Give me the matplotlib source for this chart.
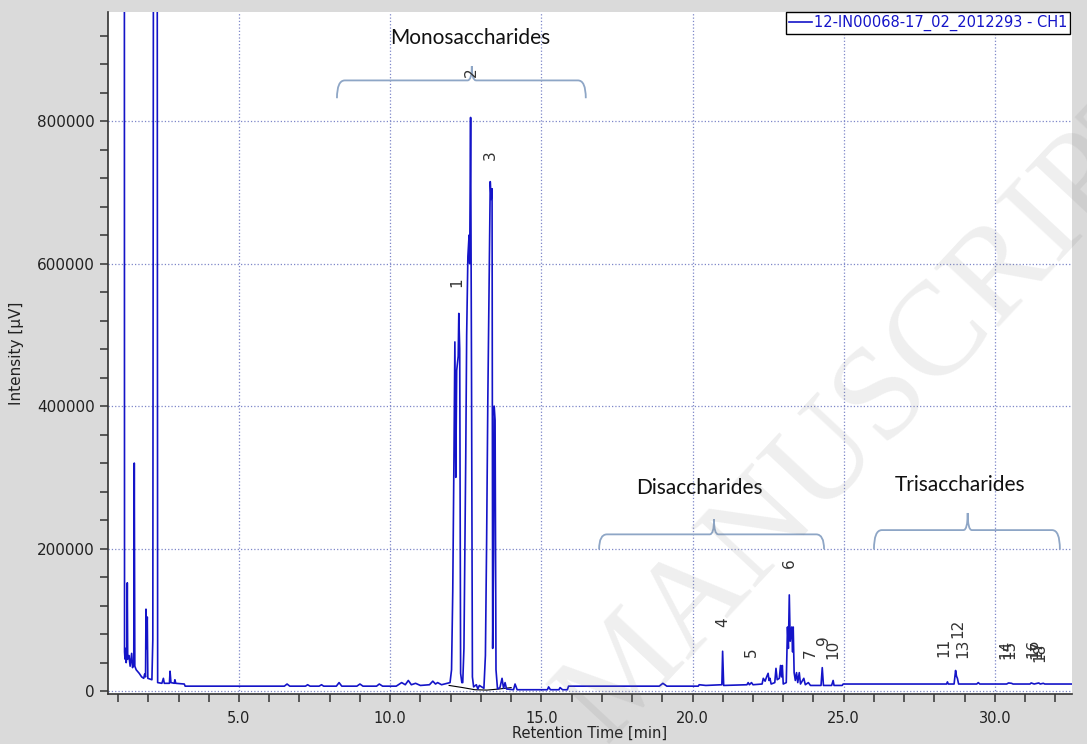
import matplotlib
matplotlib.use('Agg')
import matplotlib.pyplot as plt
from matplotlib.path import Path
from matplotlib.patches import PathPatch
from matplotlib.lines import Line2D
from matplotlib.ticker import MultipleLocator, FuncFormatter
import numpy as np

# chromatogram vertices, time [min] and intensity [kuV]
early_t = [1.19, 1.207, 1.215, 1.23, 1.25, 1.27, 1.29, 1.306, 1.32, 1.36, 1.40, 1.45, 1.48, 1.52,
           1.537, 1.555, 1.60, 1.70, 1.78, 1.85, 1.88, 1.91, 1.924, 1.94, 1.967, 1.985, 2.05,
           2.12, 2.15, 2.18, 2.29, 2.31, 2.45, 2.50, 2.53, 2.70, 2.72, 2.75, 2.86, 2.88, 2.91,
           3.19, 3.22]
early_i = [1500, 1500, 55, 45, 60, 40, 50, 152, 45, 50, 35, 53, 33, 40,
           320, 35, 30, 25, 20, 18, 24, 20, 115, 60, 104, 18, 17,
           16, 72, 1500, 1500, 12, 11, 18, 11, 11, 28, 12, 11, 16, 11,
           10, 7]

mid_t = [6.5, 6.59, 6.68, 7.2, 7.27, 7.35, 7.65, 7.73, 7.8, 8.22, 8.31, 8.4, 8.9, 9.0, 9.1,
         9.55, 9.64, 9.75, 10.2, 10.38, 10.5, 10.6, 10.7, 10.84, 11.0, 11.3, 11.41, 11.5,
         11.57, 11.7, 11.98]
mid_i = [7, 10, 7, 7, 9, 7, 7, 9, 7, 7, 12, 7, 7, 10, 7,
         7, 10, 7, 7, 12, 9, 15, 9, 11, 8, 9, 14, 10,
         12, 9, 12]

mono_t = [12.03, 12.07, 12.11, 12.14, 12.17, 12.20, 12.25, 12.27, 12.30, 12.33, 12.37,
          12.40, 12.44, 12.47, 12.50, 12.53, 12.57, 12.61, 12.63, 12.66, 12.69, 12.72, 12.76,
          12.85, 12.90, 12.95, 13.10, 13.15, 13.19, 13.23, 13.27, 13.31, 13.34, 13.37, 13.39,
          13.42, 13.44, 13.47, 13.50, 13.55]
mono_i = [30, 140, 330, 490, 300, 450, 470, 530, 480, 25, 12,
          12, 60, 195, 330, 500, 610, 640, 600, 805, 450, 20, 6,
          9, 3, 8, 4, 50, 210, 410, 560, 715, 690, 705, 60,
          200, 400, 380, 30, 3]

late_t = [13.63, 13.70, 13.75, 13.80, 13.85, 14.08, 14.13, 14.2, 15.2, 15.24, 15.3, 15.58,
          15.62, 15.7, 15.86, 15.9, 18.9, 19.02, 19.15, 20.19, 20.22, 20.44, 20.97]
late_i = [5, 18, 4, 12, 3, 2, 10, 2, 2, 6, 2, 2,
          5, 2, 2, 7, 7, 11, 7, 7, 9, 8, 9]

di_t = [20.995, 21.01, 21.03, 21.8, 21.84, 21.88, 21.95, 22.0, 22.3, 22.34, 22.4, 22.45, 22.50,
        22.53, 22.56, 22.6, 22.72, 22.76, 22.8, 22.87, 22.91, 22.94, 22.97, 23.0, 23.1, 23.14,
        23.17, 23.20, 23.23, 23.28, 23.31, 23.33, 23.36, 23.40, 23.44, 23.48, 23.53, 23.57,
        23.68, 23.73, 23.83, 23.9, 24.25, 24.29, 24.33, 24.6, 24.65, 24.68, 24.95]
di_i = [56, 36, 8, 9, 12, 9, 12, 9, 10, 18, 14, 20, 25,
        15, 18, 10, 12, 32, 16, 18, 36, 20, 36, 10, 12, 90,
        60, 135, 70, 90, 55, 90, 26, 15, 26, 12, 26, 10,
        18, 9, 12, 8, 8, 33, 8, 8, 15, 8, 8]

tri_t = [24.98, 28.4, 28.43, 28.46, 28.65, 28.70, 28.73, 28.76, 28.8, 29.4, 29.45, 29.5, 30.39,
         30.45, 30.55, 30.6, 31.16, 31.2, 31.3, 31.45, 31.5, 31.6, 31.65, 32.55]
tri_i = [10, 10, 13, 10, 10, 29, 21, 18, 10, 10, 12, 10, 10,
         11.5, 11, 10, 10, 11.5, 10, 11.5, 10, 11, 10, 10]

# integration baseline under the monosaccharide peaks
base_t = [11.95, 12.4, 12.8, 13.2, 13.6, 14.0]
base_i = [8, 5, 2, 1.5, 3, 5]

# peak numbers: label, time, height of label centre
peak_labels = ['1', '2', '3', '4', '5', '6', '7', '9', '10',
               '11', '12', '13', '14', '15', '16', '17', '18']
peak_t = [12.21, 12.67, 13.30, 21.0, 21.95, 23.2, 23.88, 24.32, 24.65,
          28.31, 28.79, 28.95, 30.35, 30.50, 31.27, 31.38, 31.49]
peak_i = [574, 869, 752, 97, 55, 179, 53, 72, 58,
          62, 88, 60, 58, 58, 60, 58, 55]

# sugar groups: name, brace start, brace end, brace tip, text position
groups = ['Monosaccharides', 'Disaccharides', 'Trisaccharides']
brace_start = [8.24, 16.91, 26.0]
brace_end = [16.47, 24.35, 32.15]
brace_tip = [12.70, 20.71, 29.10]
brace_foot = [832, 199, 199]
brace_line = [857, 220, 226]
brace_top = [877, 241, 250]
group_t = [12.64, 20.24, 28.84]
group_i = [916, 285, 289]

legend_name = '12-IN00068-17_02_2012293 - CH1'

t = np.array(early_t + mid_t + mono_t + late_t + di_t + tri_t)
y = np.array(early_i + mid_i + mono_i + late_i + di_i + tri_i) * 1000

fig = plt.figure(figsize=(10.87, 7.44), dpi=100, facecolor='#dadada')
ax = fig.add_axes([108/1087, 1 - 694/744, 964/1087, 682/744])
ax.set_facecolor('white')

ax.plot(t, y, color='#1414c8', lw=1.2, zorder=3)
ax.plot(base_t, np.array(base_i) * 1000, color='black', lw=0.8, zorder=2)

ax.set_xlim(0.668, 32.55)
ax.set_ylim(-4000, 953000)

ax.xaxis.set_major_locator(MultipleLocator(5))
ax.xaxis.set_minor_locator(MultipleLocator(1))
ax.yaxis.set_major_locator(MultipleLocator(200000))
ax.yaxis.set_minor_locator(MultipleLocator(40000))
ax.xaxis.set_major_formatter(FuncFormatter(lambda v, p: '%.1f' % v))
ax.yaxis.set_major_formatter(FuncFormatter(lambda v, p: '%d' % v))
ax.tick_params(which='both', direction='out', length=6, width=1.1, color='#333333',
               labelcolor='#222222')
ax.tick_params(axis='y', labelsize=11)
ax.tick_params(axis='x', labelsize=10.5, pad=6)

ax.grid(True, which='major', linestyle=':', color='#7d86c8', lw=0.9, zorder=1)
ax.set_axisbelow(True)
for s in ['top', 'right']:
    ax.spines[s].set_visible(False)
for s in ['left', 'bottom']:
    ax.spines[s].set_color('#333333')
    ax.spines[s].set_linewidth(1.2)

ax.set_xlabel('Retention Time [min]', fontsize=10.5, family=['Liberation Sans Narrow', 'DejaVu Sans'],
              labelpad=0, color='#222222')
ax.set_ylabel('Intensity [µV]', fontsize=11, family=['Liberation Sans Narrow', 'DejaVu Sans'],
              labelpad=9, color='#222222')

# peak numbers
for lab, pt, pi in zip(peak_labels, peak_t, peak_i):
    ax.text(pt, pi * 1000, lab, rotation=90, ha='center', va='center', fontsize=11,
            color='#333333', zorder=4)


# curly braces over the groups
def brace(x0, x1, xc, yf, yl, yt):
    r = 0.26
    r2 = 0.14
    verts = [(x0, yf), (x0, yl), (x0 + r, yl), (xc - r2, yl), (xc, yl), (xc, yt),
             (xc, yl), (xc + r2, yl), (x1 - r, yl), (x1, yl), (x1, yf)]
    codes = [Path.MOVETO, Path.CURVE3, Path.CURVE3, Path.LINETO, Path.CURVE3, Path.CURVE3,
             Path.CURVE3, Path.CURVE3, Path.LINETO, Path.CURVE3, Path.CURVE3]
    return PathPatch(Path(verts, codes), fill=False, edgecolor='#8ea6c6', lw=1.3, zorder=3)


for i in range(len(groups)):
    ax.add_patch(brace(brace_start[i], brace_end[i], brace_tip[i],
                       brace_foot[i] * 1000, brace_line[i] * 1000, brace_top[i] * 1000))
    ax.text(group_t[i], group_i[i] * 1000, groups[i], ha='center', va='center',
            fontsize=15, family=['Lato', 'DejaVu Sans'], color='#111111', zorder=4)

handle = Line2D([], [], color='#1414c8', lw=1.2)
leg = ax.legend([handle], [legend_name], loc='upper right', bbox_to_anchor=(0.998, 1.0),
                borderaxespad=0, borderpad=0.2, handlelength=1.6, handletextpad=0.1,
                fancybox=False, framealpha=1, edgecolor='black', fontsize=10.5)
leg.get_frame().set_linewidth(1.0)
for txt in leg.get_texts():
    txt.set_color('#1414c8')

# watermark
fig.text(0.805, 0.452, 'MANUSCRIPT', rotation=47, rotation_mode='anchor', ha='center',
         va='center', fontsize=96, family=['Liberation Serif', 'DejaVu Serif'],
         color='0.5', alpha=0.13, zorder=10)

fig.savefig('out.png', dpi=100, facecolor=fig.get_facecolor())
